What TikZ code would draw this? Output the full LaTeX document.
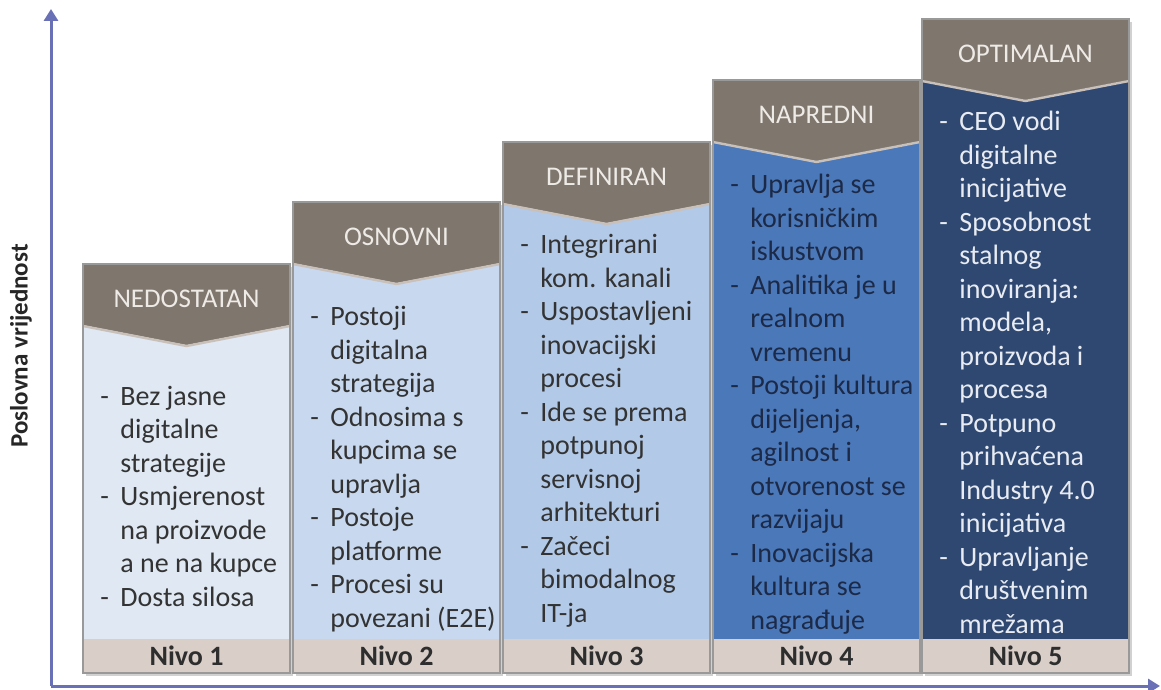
\documentclass[tikz,border=0pt]{standalone}
\usepackage{fontspec}
\setmainfont{Carlito}
\usetikzlibrary{arrows.meta}
\definecolor{glavaboja}{HTML}{7F766E}
\definecolor{glavatekst}{HTML}{EEEAE6}
\definecolor{rubboja}{HTML}{C9C0B9}
\definecolor{nivoboja}{HTML}{D9CEC8}
\definecolor{osboja}{HTML}{6A70B6}
\definecolor{plava1}{HTML}{DFE8F3}
\definecolor{plava2}{HTML}{C8D9EF}
\definecolor{plava3}{HTML}{B2C9E8}
\definecolor{plava4}{HTML}{4A78B9}
\definecolor{plava5}{HTML}{2F4872}
\definecolor{tamnotekst}{HTML}{333333}
\definecolor{mornarski}{HTML}{1C2A48}
\definecolor{svijetlotekst}{HTML}{E8ECF2}
\tikzset{
  stavke/.style={anchor=base west, align=left, inner sep=0pt, font=\fontsize{14}{16.75}\selectfont},
  naslov/.style={inner sep=0pt, text=glavatekst, font=\fontsize{13.5}{16}\selectfont},
  nivotekst/.style={inner sep=0pt, text=black!82, font=\fontsize{14}{16}\selectfont\bfseries},
  os/.style={draw=osboja, line width=1.5pt, -{Triangle[length=6pt,width=7pt]}}
}
\newcommand{\st}{\makebox[10pt][l]{-}}
\newcommand{\nx}{\makebox[10pt]{}}
% stupac: (lijevo,vrh) boja naslov
\def\stupac(#1,#2)#3#4{%
  \fill[black!18] ({#1+3},{#2+3}) rectangle ({#1+210},676);
  \fill[#3] (#1,{#2+50}) rectangle ({#1+207},639);
  \fill[glavaboja] (#1,#2) -- ({#1+207},#2) -- ({#1+207},{#2+61}) -- ({#1+103.5},{#2+81}) -- (#1,{#2+61}) -- cycle;
  \draw[rubboja, line width=1.2pt] (#1,{#2+62}) -- ({#1+103.5},{#2+82}) -- ({#1+207},{#2+62});
  \node[naslov] (#4) at ({#1+103.5},{#2+35}) {#4};
}
% nivo: (lijevo,vrh) broj
\def\nivo(#1,#2)#3{%
  \fill[nivoboja] (#1,639) rectangle ({#1+207},673);
  \node[nivotekst] (nivo#3) at ({#1+103.5},656) {Nivo #3};
  \draw[black!40, line width=0.6pt] (#1,#2) rectangle ({#1+207},673);
}

\begin{document}
\begin{tikzpicture}[x=0.5pt,y=-0.5pt]
			%%%%% START %%%%%
			\useasboundingbox[fill=white] (0,0) rectangle (1161,690);
			
			% stavke: sidro je osnovica zadnjeg retka
			\stupac(83,264){plava1}{NEDOSTATAN}
			\node[stavke, text=tamnotekst] (tekst1) at (100,606) {\st Bez jasne\\\nx digitalne\\\nx strategije\\\st Usmjerenost\\\nx na proizvode\\\nx a ne na kupce\\\st Dosta silosa};
			\nivo(83,264){1}
			
			\stupac(293,202){plava2}{OSNOVNI}
			\node[stavke, text=tamnotekst] (tekst2) at (310,627) {\st Postoji\\\nx digitalna\\\nx strategija\\\st Odnosima s\\\nx kupcima se\\\nx upravlja\\\st Postoje\\\nx platforme\\\st Procesi su\\\nx povezani (E2E)};
			\nivo(293,202){2}
			
			\stupac(503,142){plava3}{DEFINIRAN}
			\node[stavke, text=tamnotekst] (tekst3) at (520,622) {\st Integrirani\\\nx kom. kanali\\\st Uspostavljeni\\\nx inovacijski\\\nx procesi\\\st Ide se prema\\\nx potpunoj\\\nx servisnoj\\\nx arhitekturi\\\st Začeci\\\nx bimodalnog\\\nx IT-ja};
			\nivo(503,142){3}
			
			\stupac(713,80){plava4}{NAPREDNI}
			\node[stavke, text=mornarski] (tekst4) at (730,629) {\st Upravlja se\\\nx korisničkim\\\nx iskustvom\\\st Analitika je u\\\nx realnom\\\nx vremenu\\\st Postoji kultura\\\nx dijeljenja,\\\nx agilnost i\\\nx otvorenost se\\\nx razvijaju\\\st Inovacijska\\\nx kultura se\\\nx nagrađuje};
			\nivo(713,80){4}
			
			\stupac(922,19){plava5}{OPTIMALAN}
			\node[stavke, text=svijetlotekst] (tekst5) at (939,633) {\st CEO vodi\\\nx digitalne\\\nx inicijative\\\st Sposobnost\\\nx stalnog\\\nx inoviranja:\\\nx modela,\\\nx proizvoda i\\\nx procesa\\\st Potpuno\\\nx prihvaćena\\\nx Industry 4.0\\\nx inicijativa\\\st Upravljanje\\\nx društvenim\\\nx mrežama};
			\nivo(922,19){5}
			
			% osi
			\coordinate (ishodiste) at (51,686);
			\coordinate (vrhy) at (51,9);
			\coordinate (krajx) at (1160,686);
			\draw[os] (ishodiste) -- (vrhy);
			\draw[os] (ishodiste) -- (krajx);
			\node[rotate=90, inner sep=0pt, text=black!85, font=\fontsize{12.5}{14}\selectfont\bfseries] (vrijednost) at (21,346) {Poslovna vrijednost};
			
			%%%%% END %%%%%
\end{tikzpicture}
\end{document}
